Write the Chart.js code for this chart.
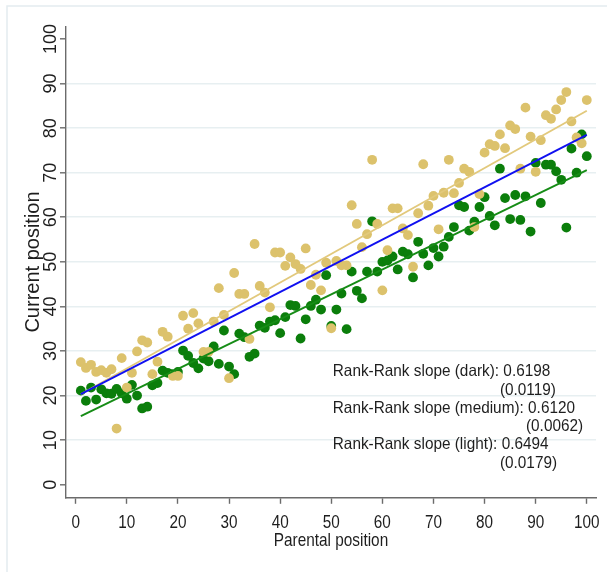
<!DOCTYPE html>
<html>
<head>
<meta charset="utf-8">
<script src="https://cdn.jsdelivr.net/npm/chart.js@4.4.1/dist/chart.umd.min.js"></script>
<style>
  html, body { margin: 0; padding: 0; background: #ffffff; }
  #wrap { width: 607px; height: 572px; position: relative; }
</style>
</head>
<body>
<div id="wrap"><canvas id="chart" width="607" height="572"></canvas></div>
<script>
// Parental rank (percentile) and mean current rank by group
const parentalPosition = [
  1, 2, 3, 4, 5, 6, 7, 8, 9, 10, 11, 12, 13, 14, 15, 16, 17, 18, 19, 20,
  21, 22, 23, 24, 25, 26, 27, 28, 29, 30, 31, 32, 33, 34, 35, 36, 37, 38, 39, 40,
  41, 42, 43, 44, 45, 46, 47, 48, 49, 50, 51, 52, 53, 54, 55, 56, 57, 58, 59, 60,
  61, 62, 63, 64, 65, 66, 67, 68, 69, 70, 71, 72, 73, 74, 75, 76, 77, 78, 79, 80,
  81, 82, 83, 84, 85, 86, 87, 88, 89, 90, 91, 92, 93, 94, 95, 96, 97, 98, 99, 100
];
const lightCurrent = [
  27.5, 26.2, 26.9, 25.3, 25.7, 25.1, 25.9, 12.6, 28.4, 21.8,
  25.1, 29.9, 32.4, 31.9, 24.8, 27.6, 34.3, 33.2, 24.4, 24.4,
  37.9, 35.0, 38.5, 36.2, 29.8, 29.8, 36.6, 44.1, 38.1, 23.9,
  47.5, 42.8, 42.8, 32.7, 54.0, 44.6, 43.1, 39.8, 52.1, 52.1,
  49.1, 51.0, 49.5, 48.4, 53.0, 44.8, 47.1, 43.6, 49.8, 35.1,
  50.2, 49.2, 49.2, 62.7, 58.5, 53.3, 56.2, 72.9, 58.5, 43.6,
  52.6, 62.0, 62.0, 57.5, 56.0, 48.9, 60.9, 71.9, 62.6, 64.8,
  57.3, 65.5, 72.9, 65.4, 67.7, 70.9, 70.2, 57.8, 65.2, 74.5,
  76.4, 76.0, 78.6, 75.5, 80.6, 79.8, 70.9, 84.6, 78.1, 70.2,
  77.3, 82.9, 82.1, 84.2, 86.3, 88.1, 81.5, 77.9, 76.6, 86.3
];
const darkCurrent = [
  21.1, 18.8, 21.8, 19.1, 21.4, 20.5, 20.4, 21.5, 20.5, 19.3,
  22.4, 20.0, 17.1, 17.5, 22.3, 22.8, 25.6, 25.1, 24.8, 25.3,
  30.1, 28.9, 27.3, 26.1, 28.3, 27.7, 31.0, 27.1, 34.6, 26.5,
  24.8, 33.9, 33.1, 28.7, 29.4, 35.7, 35.2, 36.6, 36.9, 34.0,
  37.6, 40.3, 40.1, 32.8, 37.1, 40.1, 41.5, 39.3, 47.0, 35.6,
  39.3, 42.9, 34.9, 47.8, 43.5, 41.8, 47.8, 59.1, 47.8, 50.0,
  50.3, 51.2, 48.3, 52.3, 51.7, 46.5, 54.5, 51.8, 49.2, 53.1,
  51.2, 53.4, 55.6, 57.8, 62.7, 62.3, 57.0, 59.0, 62.3, 64.5,
  60.3, 58.2, 70.9, 64.3, 59.6, 65.0, 59.4, 64.7, 56.8, 72.2,
  63.2, 71.8, 71.8, 70.3, 68.4, 57.7, 75.4, 70.0, 78.6, 73.7
];

// Fitted lines, evaluated at the ends of the parental range
const fitEnds = [1, 100];
const lightFit = [20.3, 83.9];
const mediumFit = [20.3, 78.5];
const darkFit = [15.4, 70.6];

const xTicks = [0, 10, 20, 30, 40, 50, 60, 70, 80, 90, 100];
const yTicks = [0, 10, 20, 30, 40, 50, 60, 70, 80, 90, 100];
const xTitle = 'Parental position';
const yTitle = 'Current position';

const slopeNotes = [
  'Rank-Rank slope (dark): 0.6198',
  '(0.0119)',
  'Rank-Rank slope (medium): 0.6120',
  '(0.0062)',
  'Rank-Rank slope (light): 0.6494',
  '(0.0179)'
];

const SANS = '"Liberation Sans", Arial, sans-serif';
const AXIS_GREY = '#6b6b6b';
const TEXT = '#1e1e1e';

const toPoints = (xs, ys) => xs.map((x, i) => ({ x: x, y: ys[i] }));

function lineSet(ys, color, width) {
  return {
    type: 'scatter',
    data: toPoints(fitEnds, ys),
    showLine: true,
    borderColor: color,
    borderWidth: width,
    pointRadius: 0,
    fill: false
  };
}

function dotSet(ys, color) {
  return {
    type: 'scatter',
    data: toPoints(parentalPosition, ys),
    pointRadius: 4.9,
    pointBorderWidth: 0,
    pointBackgroundColor: color,
    backgroundColor: color,
    borderColor: color,
    showLine: false
  };
}

// Draws text squeezed horizontally, the way the axis lettering is set
function condensedText(ctx, text, x, y, squeeze) {
  ctx.save();
  ctx.translate(x, y);
  ctx.scale(squeeze, 1);
  ctx.fillText(text, 0, 0);
  ctx.restore();
}

// Light frame around the graph region
const framePlugin = {
  id: 'frame',
  beforeDraw(chart) {
    const ctx = chart.ctx;
    ctx.save();
    ctx.fillStyle = '#ffffff';
    ctx.fillRect(0, 0, chart.width, chart.height);
    ctx.strokeStyle = '#e4ecef';
    ctx.lineWidth = 1.5;
    ctx.strokeRect(7, 6, chart.width + 20, chart.height + 20);
    ctx.restore();
  }
};

// Horizontal axis labels and title in condensed lettering
const xLabelPlugin = {
  id: 'xLabels',
  afterDraw(chart) {
    const ctx = chart.ctx;
    const xs = chart.scales.x;
    ctx.save();
    ctx.fillStyle = TEXT;
    ctx.textAlign = 'center';
    ctx.textBaseline = 'middle';
    ctx.font = '18px ' + SANS;
    xTicks.forEach(v => condensedText(ctx, String(v), xs.getPixelForValue(v), xs.top + 26, 0.85));
    ctx.font = '18.5px ' + SANS;
    condensedText(ctx, xTitle, (xs.left + xs.right) / 2, xs.top + 43.5, 0.83);
    ctx.restore();
  }
};

// Slope estimates with standard errors, anchored in data space
const notesPlugin = {
  id: 'notes',
  afterDraw(chart) {
    const { ctx, scales } = chart;
    const xs = scales.x, ys = scales.y;
    const anchors = [
      [50.3, 0], [83.0, 1], [50.3, 2], [88.1, 3], [50.3, 4], [83.0, 5]
    ];
    const top = ys.getPixelForValue(25.35);
    ctx.save();
    ctx.font = '16.5px ' + SANS;
    ctx.fillStyle = TEXT;
    ctx.textAlign = 'left';
    ctx.textBaseline = 'middle';
    slopeNotes.forEach((t, i) => {
      const [ax, row] = anchors[i];
      condensedText(ctx, t, xs.getPixelForValue(ax), top + row * 18.3, 0.93);
    });
    ctx.restore();
  }
};

const chart = new Chart(document.getElementById('chart'), {
  type: 'scatter',
  data: {
    datasets: [
      lineSet(mediumFit, '#1010f0', 1.9),
      lineSet(lightFit, '#e2c97c', 1.9),
      lineSet(darkFit, '#168c16', 1.9),
      dotSet(lightCurrent, '#dcc26c'),
      dotSet(darkCurrent, '#0b7e0b')
    ]
  },
  options: {
    responsive: false,
    animation: false,
    devicePixelRatio: 1,
    layout: { padding: { left: 0, right: 11, top: 26.7, bottom: 0 } },
    plugins: {
      legend: { display: false },
      tooltip: { enabled: false }
    },
    scales: {
      x: {
        type: 'linear',
        position: 'bottom',
        min: -1.9,
        max: 101.8,
        afterBuildTicks: s => { s.ticks = xTicks.map(v => ({ value: v })); },
        afterFit: s => { s.height = 74.7; s.paddingLeft = 0; s.paddingRight = 0; },
        border: { display: true, color: AXIS_GREY, width: 1.4 },
        grid: { drawOnChartArea: false, drawTicks: true, tickLength: 6.5, tickColor: AXIS_GREY, tickWidth: 1.4 },
        ticks: { display: false, autoSkip: false },
        title: { display: false }
      },
      y: {
        type: 'linear',
        position: 'left',
        min: -2.83,
        max: 102.76,
        afterBuildTicks: s => { s.ticks = yTicks.map(v => ({ value: v })); },
        afterFit: s => { s.width = 66; s.paddingTop = 0; s.paddingBottom = 0; },
        border: { display: true, color: AXIS_GREY, width: 1.4 },
        grid: {
          drawOnChartArea: true,
          color: c => (c.tick && (c.tick.value === 0 || c.tick.value === 100)) ? 'rgba(0,0,0,0)' : '#e7eff1',
          lineWidth: 1.6,
          tickLength: 6,
          tickColor: AXIS_GREY,
          tickWidth: 1.4
        },
        ticks: {
          autoSkip: false, minRotation: 90, maxRotation: 90, crossAlign: 'center', padding: -5.8,
          color: TEXT, font: { family: SANS, size: 18 }
        },
        title: {
          display: true, text: yTitle, color: TEXT,
          font: { family: SANS, size: 20 },
          padding: { top: 21.3, bottom: 0 }
        }
      }
    }
  },
  plugins: [framePlugin, xLabelPlugin, notesPlugin]
});
</script>
</body>
</html>
